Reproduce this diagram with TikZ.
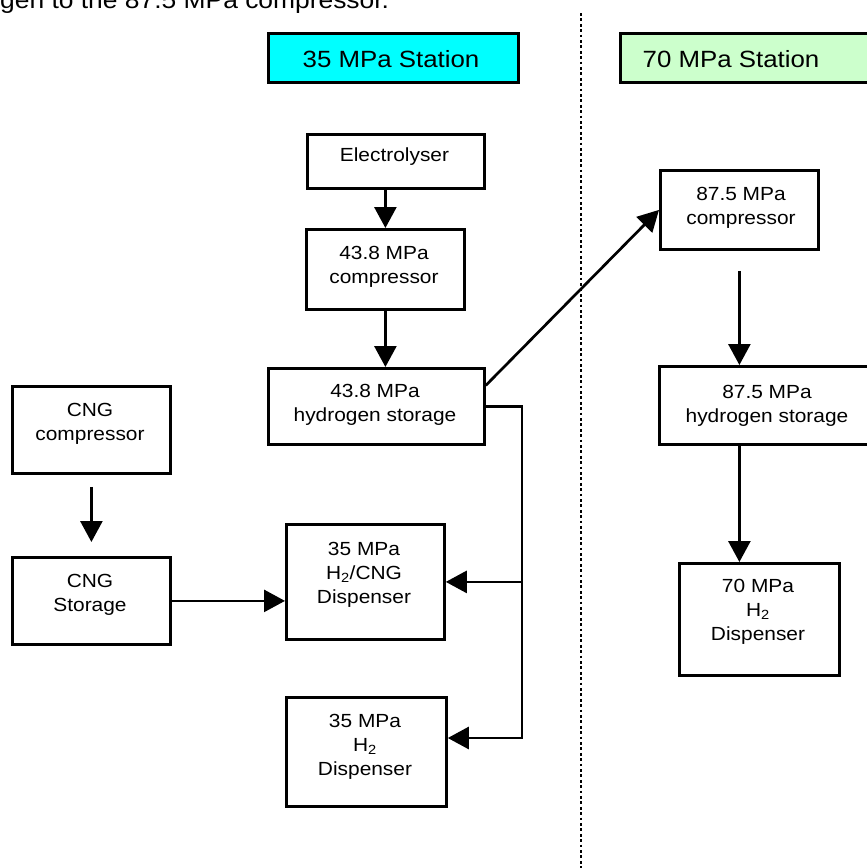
\documentclass[tikz,border=0pt]{standalone}
\usepackage{fontspec}
\setmainfont[FakeStretch=1.1]{Liberation Sans}
\usetikzlibrary{arrows.meta,calc}
\definecolor{titlecyan}{RGB}{0,255,255}
\definecolor{titlegreen}{RGB}{204,255,204}
\newcommand\mlines[1]{\begin{tabular}[t]{@{}c@{}}#1\end{tabular}}
\tikzset{
  box/.style={draw=black, line width=2.8pt, inner sep=0pt, anchor=north west},
  txt/.style={inner sep=0pt, anchor=base, font=\fontsize{19}{24}\selectfont},
  ttl/.style={inner sep=0pt, anchor=base, font=\fontsize{24}{29}\selectfont},
  conn/.style={line width=2.7pt, line join=miter},
  arr/.style={conn, -{Triangle[length=21pt,width=22pt]}},
}
\begin{document}
\begin{tikzpicture}[x=1pt,y=-1pt]
\useasboundingbox (0,0) rectangle (867,868);
\path[clip] (0,0) rectangle (867,868);
\fill[white] (0,0) rectangle (867,868);

% cut-off caption line at the top
\node[ttl, anchor=base west] (cap) at (0,8) {gen to the 87.5 MPa compressor.};

% divider
\draw[line width=2.8pt, dash pattern=on 2.8pt off 2.6pt] (581,13) -- (581,870);

% station titles
\node[box, fill=titlecyan, minimum width=250pt, minimum height=49pt] (t35) at (267,32) {};
\node[ttl, font=\fontsize{23.5}{29}\selectfont] (t35t) at (391,67) {35 MPa Station};
\node[box, fill=titlegreen, minimum width=262pt, minimum height=49pt] (t70) at (619,32) {};
\node[ttl, font=\fontsize{23.5}{29}\selectfont] (t70t) at (731,67) {70 MPa Station};

% boxes
\node[box, minimum width=177pt, minimum height=54pt] (elec) at (306,133) {};
\node[txt] (elect) at (394.5,161) {Electrolyser};

\node[box, minimum width=158pt, minimum height=80pt] (comp43) at (305,228) {};
\node[txt] (comp43t) at (384,259) {\mlines{43.8 MPa\\compressor}};

\node[box, minimum width=216pt, minimum height=76pt] (stor43) at (267,367) {};
\node[txt] (stor43t) at (375,397) {\mlines{43.8 MPa\\hydrogen storage}};

\node[box, minimum width=158pt, minimum height=79pt] (comp87) at (659,169) {};
\node[txt] (comp87t) at (741,200) {\mlines{87.5 MPa\\compressor}};

\node[box, minimum width=219pt, minimum height=78pt] (stor87) at (658,365) {};
\node[txt] (stor87t) at (767,398) {\mlines{87.5 MPa\\hydrogen storage}};

\node[box, minimum width=160pt, minimum height=112pt] (disp70) at (678,562) {};
\node[txt] (disp70t) at (758,592) {\mlines{70 MPa\\H\textsubscript{2}\\Dispenser}};

\node[box, minimum width=158pt, minimum height=115pt] (d35c) at (285,523) {};
\node[txt] (d35ct) at (364,555) {\mlines{35 MPa\\H\textsubscript{2}/CNG\\Dispenser}};

\node[box, minimum width=160pt, minimum height=109pt] (d35h) at (285,696) {};
\node[txt] (d35ht) at (365,727) {\mlines{35 MPa\\H\textsubscript{2}\\Dispenser}};

\node[box, minimum width=158pt, minimum height=87pt] (cngc) at (11,385) {};
\node[txt] (cngct) at (90,416) {\mlines{CNG\\compressor}};

\node[box, minimum width=158pt, minimum height=87pt] (cngs) at (11,556) {};
\node[txt] (cngst) at (90,587) {\mlines{CNG\\Storage}};

% connectors
\draw[arr] (comp43.north |- elec.south) -- (comp43.north);
\draw[arr] (comp43.south) -- (comp43.south |- stor43.north);
\draw[arr] ([yshift=21pt]stor43.east) -- (comp87.west);
\draw[arr] ([yshift=-20pt]comp87.south) -- (comp87.south |- stor87.north);
\draw[arr] (comp87.south |- stor87.south) -- (comp87.south |- disp70.north);

\coordinate (bus) at (522,738);
\draw[arr] (stor43.east) -| (bus) -- (bus -| d35h.east);
\draw[arr] (bus |- d35c.east) -- (d35c.east);

\draw[arr] ([yshift=-12pt]cngc.south) -- ([yshift=14pt]cngs.north);
\draw[arr] (cngs.east) -- (cngs.east -| d35c.west);
\end{tikzpicture}
\end{document}
